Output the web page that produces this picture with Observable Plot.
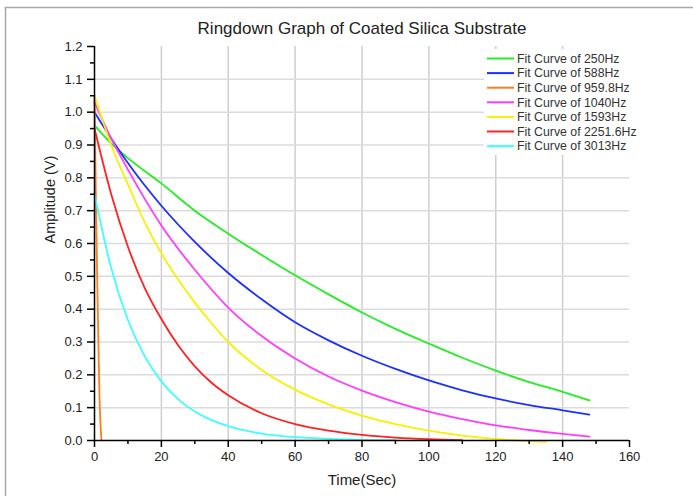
<!DOCTYPE html>
<html>
<head>
<meta charset="utf-8">
<script src="https://cdn.jsdelivr.net/npm/d3@7"></script>
<script src="https://cdn.jsdelivr.net/npm/@observablehq/plot@0.6"></script>
<style>
  html, body { margin: 0; padding: 0; background: #fff; }
  #chart svg { display: block; }
</style>
</head>
<body>
<div id="chart"></div>
<script>
// Fitted ringdown curves: amplitude (V) versus time (s)
const seriesNames = [
  "Fit Curve of 250Hz",
  "Fit Curve of 588Hz",
  "Fit Curve of 959.8Hz",
  "Fit Curve of 1040Hz",
  "Fit Curve of 1593Hz",
  "Fit Curve of 2251.6Hz",
  "Fit Curve of 3013Hz"
];
const seriesColors = ["#22ee22", "#1c30ff", "#ff7f1e", "#ff3cff", "#f8f000", "#ff2222", "#3cffff"];

const t250 = [0, 5, 10, 20, 30, 40, 50, 60, 70, 80, 90, 100, 110, 120, 130, 140, 148];
const v250 = [0.96, 0.905, 0.86, 0.783, 0.70, 0.63, 0.565, 0.503, 0.445, 0.39, 0.34, 0.295, 0.252, 0.213, 0.178, 0.148, 0.122];

const t588 = [0, 5, 10, 20, 30, 40, 50, 60, 70, 80, 90, 100, 110, 120, 130, 140, 148];
const v588 = [1.0, 0.92, 0.845, 0.715, 0.605, 0.51, 0.43, 0.36, 0.305, 0.258, 0.218, 0.183, 0.153, 0.128, 0.108, 0.092, 0.079];

const t959 = [0, 0.4, 0.8, 1.2, 1.5, 1.8, 2.1];
const v959 = [1.05, 0.75, 0.50, 0.28, 0.13, 0.05, 0.0];

const t1040 = [0, 5, 10, 20, 30, 40, 50, 60, 70, 80, 90, 100, 110, 120, 130, 140, 148];
const v1040 = [1.03, 0.92, 0.825, 0.655, 0.52, 0.405, 0.318, 0.25, 0.195, 0.152, 0.117, 0.088, 0.065, 0.046, 0.032, 0.02, 0.012];

const t1593 = [0, 5, 10, 15, 20, 25, 30, 35, 40, 50, 60, 70, 80, 90, 100, 110, 120, 130, 135];
const v1593 = [1.05, 0.90, 0.78, 0.665, 0.57, 0.49, 0.42, 0.357, 0.30, 0.215, 0.155, 0.11, 0.076, 0.05, 0.03, 0.015, 0.005, -0.002, -0.004];

const t2251 = [0, 5, 10, 15, 20, 25, 30, 35, 40, 50, 60, 70, 80, 90, 100, 110];
const v2251 = [0.95, 0.75, 0.59, 0.465, 0.37, 0.29, 0.226, 0.176, 0.138, 0.083, 0.05, 0.03, 0.017, 0.009, 0.004, 0.001];

const t3013 = [0, 5, 10, 15, 20, 25, 30, 35, 40, 50, 60, 70, 80, 90];
const v3013 = [0.75, 0.525, 0.367, 0.257, 0.18, 0.126, 0.088, 0.062, 0.044, 0.021, 0.01, 0.005, 0.002, 0.001];

const xTicks = [0, 20, 40, 60, 80, 100, 120, 140, 160];
const xMinor = [10, 30, 50, 70, 90, 110, 130, 150];
const yTicks = [0, 0.1, 0.2, 0.3, 0.4, 0.5, 0.6, 0.7, 0.8, 0.9, 1.0, 1.1, 1.2];
const yMinor = [0.05, 0.15, 0.25, 0.35, 0.45, 0.55, 0.65, 0.75, 0.85, 0.95, 1.05, 1.15];
const xGrid = [20, 40, 60, 80, 100, 120, 140];
const yGrid = [0.1, 0.2, 0.3, 0.4, 0.5, 0.6, 0.7, 0.8, 0.9, 1.0, 1.1];

const seriesT = [t250, t588, t959, t1040, t1593, t2251, t3013];
const seriesV = [v250, v588, v959, v1040, v1593, v2251, v3013];

const rows = seriesNames.flatMap((name, i) =>
  seriesT[i].map((t, j) => ({name, t, v: seriesV[i][j]}))
);

const font = "'Liberation Sans', Arial, sans-serif";

const plot = Plot.plot({
  width: 693,
  height: 496,
  marginLeft: 94,
  marginRight: 64,
  marginTop: 46,
  marginBottom: 56,
  style: {fontFamily: font, fontSize: "13px", color: "#222", background: "#fff", overflow: "visible"},
  x: {domain: [0, 160]},
  y: {domain: [0, 1.2]},
  color: {domain: seriesNames, range: seriesColors},
  marks: [
    Plot.gridX(xGrid, {stroke: "#cfcfcf", strokeOpacity: 1, strokeWidth: 1.5}),
    Plot.gridY(yGrid, {stroke: "#dcdcdc", strokeOpacity: 1, strokeWidth: 1.5}),
    Plot.line(rows, {x: "t", y: "v", z: "name", stroke: "name", strokeWidth: 1.8, curve: "monotone-x"}),
    Plot.ruleY([0], {stroke: "#000", strokeWidth: 1.5}),
    Plot.ruleX([0], {stroke: "#000", strokeWidth: 1.5}),
    Plot.axisX(xTicks, {tickSize: 7, tickPadding: 4, stroke: "#000", strokeWidth: 1.5, label: null, fontSize: 13, fill: "#222"}),
    Plot.axisX(xMinor, {tickSize: 4, text: null, stroke: "#000", strokeWidth: 1.5, label: null}),
    Plot.axisY(yTicks, {tickSize: 7, tickPadding: 5, stroke: "#000", strokeWidth: 1.5, label: null,
      tickFormat: d3.format(".1f"), fontSize: 13, fill: "#222"}),
    Plot.axisY(yMinor, {tickSize: 4, text: null, stroke: "#000", strokeWidth: 1.5, label: null}),
    Plot.text(["Ringdown Graph of Coated Silica Substrate"], {frameAnchor: "top", dy: -25, fontSize: 17, fill: "#222"}),
    Plot.text(["Time(Sec)"], {frameAnchor: "bottom", dy: 44, fontSize: 15, fill: "#222"}),
    Plot.text(["Amplitude (V)"], {frameAnchor: "left", dx: -44, rotate: -90, fontSize: 14.5, fill: "#222"})
  ]
});

// Outer frame around the figure
const svg = d3.select(plot);
svg.insert("rect", ":first-child")
  .attr("x", 5.5).attr("y", 7.5)
  .attr("width", 720).attr("height", 520)
  .attr("fill", "none").attr("stroke", "#a8a8a8").attr("stroke-width", 1.5);

// Legend box in the upper right of the plot area
const legend = svg.append("g")
  .attr("font-family", font)
  .attr("font-size", 12.3)
  .attr("text-anchor", "start");
legend.append("rect")
  .attr("x", 484).attr("y", 49).attr("width", 162).attr("height", 106)
  .style("fill", "#fff").style("stroke", "none");
seriesNames.forEach((name, i) => {
  const y = 58.5 + i * 14.6;
  legend.append("line")
    .attr("x1", 487).attr("x2", 514).attr("y1", y).attr("y2", y)
    .attr("stroke", seriesColors[i]).attr("stroke-width", 2);
  legend.append("text")
    .attr("x", 517).attr("y", y).attr("dy", "0.35em")
    .attr("text-anchor", "start")
    .style("fill", "#333").text(name);
});

document.getElementById("chart").appendChild(plot);
</script>
</body>
</html>
